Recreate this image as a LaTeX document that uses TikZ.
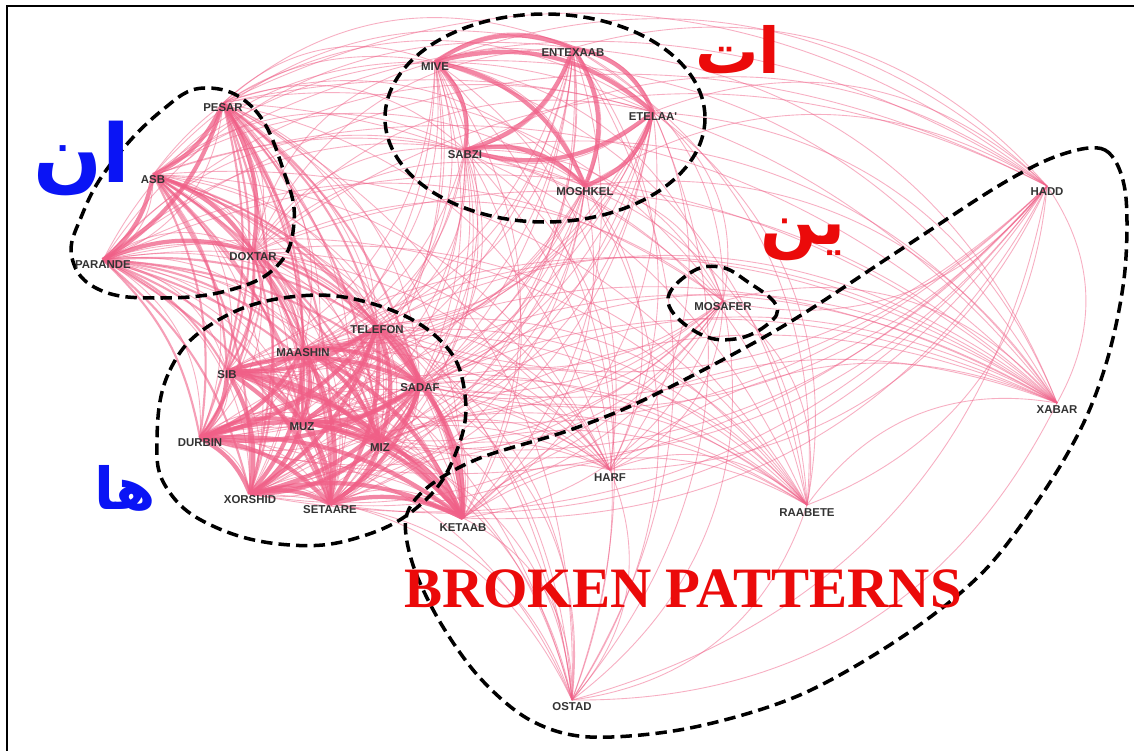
\documentclass[tikz,border=0pt]{standalone}
\usepackage{fontspec}
\newfontfamily\arabicfont[Script=Arabic]{DejaVu Sans}
\newfontfamily\labfont{Liberation Sans}
\newfontfamily\serifbig{Liberation Serif}
\TeXXeTstate=1
\definecolor{edgepink}{RGB}{240,95,135}
\definecolor{arblue}{RGB}{10,20,245}
\definecolor{arred}{RGB}{235,10,10}
\tikzset{
  thinedge/.style={draw=edgepink, line width=0.5pt, opacity=0.5},
  midedge/.style={draw=edgepink, line width=1.2pt, opacity=0.6},
  thickedge/.style={draw=edgepink, line width=2.4pt, opacity=0.75},
  lab/.style={font=\labfont\bfseries\fontsize{6.5}{7}\selectfont, text=black!80, inner sep=0.5pt},
  grp/.style={draw=black, line width=2pt, dash pattern=on 6.5pt off 3.5pt},
  arab/.style={font=\arabicfont\bfseries, inner sep=0pt},
}
\begin{document}
\begin{tikzpicture}[x=0.02cm,y=-0.02cm]
\useasboundingbox (0,0) rectangle (1134,751);
\fill[white] (0,0) rectangle (1134,751);
% node points
\coordinate (pes) at (223,103);
\coordinate (asb) at (153,175);
\coordinate (par) at (103,260);
\coordinate (dox) at (253,252);
\coordinate (miv) at (435,62);
\coordinate (ent) at (573,48);
\coordinate (ete) at (653,112);
\coordinate (sab) at (465,150);
\coordinate (mos) at (585,186);
\coordinate (had) at (1047,186);
\coordinate (msf) at (723,301);
\coordinate (xab) at (1057,403);
\coordinate (har) at (610,470);
\coordinate (raa) at (807,505);
\coordinate (ost) at (572,700);
\coordinate (ket) at (463,518);
\coordinate (tel) at (377,326);
\coordinate (maa) at (303,349);
\coordinate (sib) at (227,371);
\coordinate (sad) at (420,384);
\coordinate (dur) at (200,438);
\coordinate (muz) at (302,422);
\coordinate (miz) at (380,443);
\coordinate (xor) at (250,494);
\coordinate (set) at (330,504);
% all thin edges
\def\allnodes{pes,asb,par,dox,miv,ent,ete,sab,mos,had,msf,tel,maa,sib,sad,dur,muz,miz,xor,set,ket,har,raa,xab,ost}
\foreach \a [count=\i] in \allnodes {
  \foreach \b [count=\j] in \allnodes {
    \ifnum\j>\i \draw[thinedge] (\a) to[bend left=32] (\b); \fi
  }
}
% medium edges between an-group and ha-group
\foreach \a in {pes,asb,par,dox} {
  \foreach \b in {tel,maa,sib,sad,dur,muz,miz,xor,set} {
    \draw[midedge] (\a) to[bend left=18] (\b);
  }
}
% thick edges within groups
\def\grpA{pes,asb,par,dox}
\foreach \a [count=\i] in \grpA {
  \foreach \b [count=\j] in \grpA {
    \ifnum\j>\i \draw[thickedge] (\a) to[bend left=20] (\b); \fi
  }
}
\def\grpB{miv,ent,ete,sab,mos}
\foreach \a [count=\i] in \grpB {
  \foreach \b [count=\j] in \grpB {
    \ifnum\j>\i \draw[thickedge] (\a) to[bend left=28] (\b); \fi
  }
}
\def\grpC{tel,maa,sib,sad,dur,muz,miz,xor,set,ket}
\foreach \a [count=\i] in \grpC {
  \foreach \b [count=\j] in \grpC {
    \ifnum\j>\i \draw[thickedge] (\a) to[bend left=20] (\b); \fi
  }
}
% group outlines
\draw[grp] plot[smooth cycle, tension=0.7] coordinates {(205,88) (255,110) (285,175) (294,222) (278,265) (230,290) (160,298) (100,290) (72,258) (82,215) (110,165) (160,112)};
\draw[grp] (545,118) ellipse [x radius=160, y radius=104];
\draw[grp] plot[smooth cycle, tension=0.7] coordinates {(157,440) (170,370) (215,322) (290,297) (370,303) (440,340) (465,395) (455,455) (420,505) (360,537) (290,545) (215,527) (168,490)};
\draw[grp] plot[smooth cycle, tension=0.7] coordinates {(668,302) (690,273) (720,267) (748,282) (776,305) (768,324) (735,339) (698,333)};
\draw[grp] plot[smooth cycle, tension=0.55] coordinates {(1060,155) (1105,150) (1125,190) (1125,270) (1110,350) (1085,420) (1045,490) (985,570) (905,635) (800,695) (690,728) (590,737) (530,720) (480,678) (440,622) (413,565) (406,518) (428,487) (480,458) (570,430) (650,397) (780,328) (900,250) (1000,185)};
% labels
\node[lab] (lpes) at (223,108) {PESAR};
\node[lab] (lasb) at (153,180) {ASB};
\node[lab] (lpar) at (103,265) {PARANDE};
\node[lab] (ldox) at (253,257) {DOXTAR};
\node[lab] (lmiv) at (435,67) {MIVE};
\node[lab] (lent) at (573,53) {ENTEXAAB};
\node[lab] (lete) at (653,117) {ETELAA'};
\node[lab] (lsab) at (465,155) {SABZI};
\node[lab] (lmos) at (585,192) {MOSHKEL};
\node[lab] (lhad) at (1047,192) {HADD};
\node[lab] (lmsf) at (723,307) {MOSAFER};
\node[lab] (lxab) at (1057,410) {XABAR};
\node[lab] (lhar) at (610,478) {HARF};
\node[lab] (lraa) at (807,513) {RAABETE};
\node[lab] (lost) at (572,707) {OSTAD};
\node[lab] (lket) at (463,528) {KETAAB};
\node[lab] (ltel) at (377,330) {TELEFON};
\node[lab] (lmaa) at (303,353) {MAASHIN};
\node[lab] (lsib) at (227,375) {SIB};
\node[lab] (lsad) at (420,388) {SADAF};
\node[lab] (ldur) at (200,443) {DURBIN};
\node[lab] (lmuz) at (302,427) {MUZ};
\node[lab] (lmiz) at (380,448) {MIZ};
\node[lab] (lxor) at (250,500) {XORSHID};
\node[lab] (lset) at (330,510) {SETAARE};
% big texts
\node[arab, text=arblue, font=\arabicfont\bfseries\fontsize{46}{50}\selectfont] (tan) at (82,158) {\beginR ان\endR};
\node[arab, text=arred, font=\arabicfont\bfseries\fontsize{36}{40}\selectfont] (tat) at (738,50) {\beginR ات\endR};
\node[arab, text=arred, font=\arabicfont\bfseries\fontsize{38}{42}\selectfont] (tin) at (803,240) {\beginR ين\endR};
\node[arab, text=arblue, font=\arabicfont\bfseries\fontsize{33}{36}\selectfont] (tha) at (125,488) {\beginR ها\endR};
\node[inner sep=0pt, anchor=base, text=arred, font=\serifbig\bfseries\fontsize{32.5}{36}\selectfont] (tbp) at (683,607) {BROKEN PATTERNS};
% frame (top and left)
\draw[black, line width=1.2pt] (7,751) -- (7,6) -- (1134,6);
\end{tikzpicture}
\end{document}
